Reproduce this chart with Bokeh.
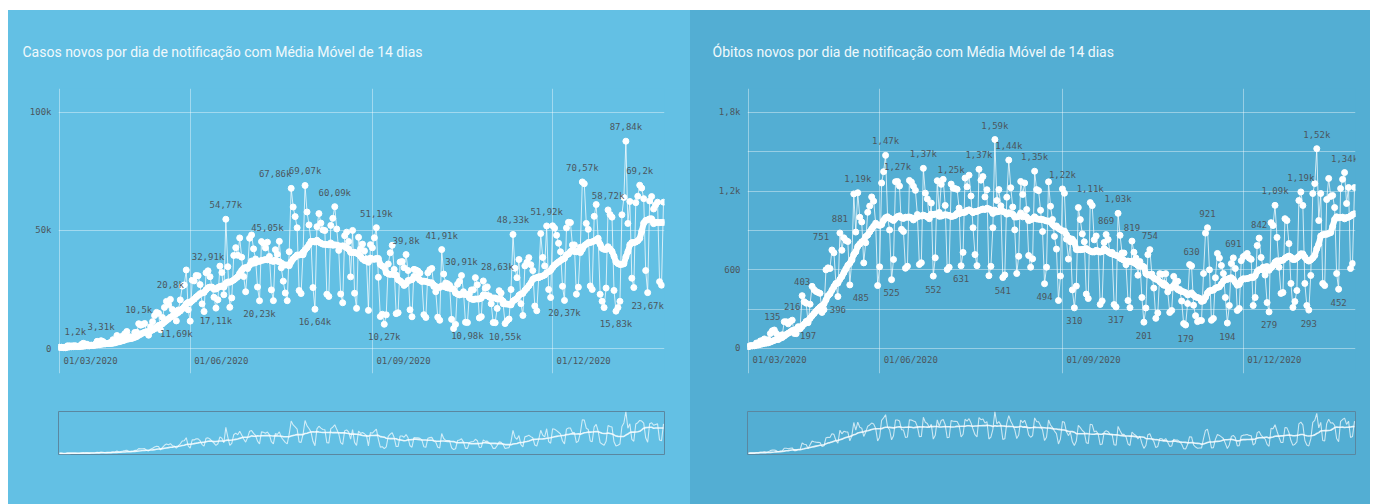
import pandas as pd
from bokeh.plotting import figure
from bokeh.models import ColumnDataSource, Range1d, FixedTicker, Grid
from bokeh.layouts import row, column
from bokeh.embed import file_html
from bokeh.resources import INLINE
from bokeh.core.properties import value

# ---------------- data (daily values, 27/03/2020 .. 26/01/2021) ----------------
cases_mar = [502, 487, 352, 323, 1138]
cases_apr = [1119, 1074, 1146, 1201, 852, 926, 1661, 2210, 1930, 1781, 1089, 1442, 1261, 1832, 3058,
             2105, 3310, 2917, 1996, 2089, 2336, 2678, 3735, 3503, 5514, 3379, 4613, 5385, 6276, 7218]
cases_may = [5015, 4898, 4726, 6794, 6835, 10503, 9888, 10222, 10611, 6760, 5632, 9258, 11385, 13944, 15305,
             14919, 7938, 13140, 17408, 19951, 18508, 20803, 16508, 15813, 11687, 16324, 20599, 26417, 26928,
             33274, 16409]
cases_jun = [11598, 28936, 28633, 30925, 30830, 27075, 18912, 15654, 32091, 32913, 30412, 25982, 21704, 17110,
             20647, 34918, 32188, 22765, 54771, 34666, 17459, 21432, 39436, 42725, 39483, 46860, 38693, 30476,
             24052, 33846]
cases_jul = [46712, 48105, 42223, 37923, 26051, 20229, 45305, 44571, 42619, 45048, 39023, 24831, 20286, 41857,
             39924, 45403, 34177, 28532, 23529, 20257, 41008, 67860, 59961, 55891, 51147, 24578, 23284, 40816,
             69074, 57837, 52383]
cases_aug = [45392, 25800, 16641, 51603, 57152, 53139, 50230, 49970, 23010, 22048, 52160, 55155, 60091, 50644,
             41576, 23101, 19373, 47784, 49298, 45323, 30355, 50032, 23421, 17004, 47134, 42160, 44235, 41350,
             38000, 16158, 44000]
cases_sep = [42659, 46934, 51194, 30168, 13540, 14521, 10273, 14279, 35816, 40557, 43718, 33523, 14768, 15155,
             36653, 36820, 34239, 39797, 33057, 16389, 13439, 33536, 33281, 32817, 31911, 28378, 14318, 13155,
             32058, 33413]
cases_oct = [33922, 26310, 24062, 13273, 11946, 41906, 31553, 27750, 27444, 26749, 12342, 8426, 10220, 27235,
             28523, 30914, 24062, 11099, 10982, 23227, 24818, 24858, 30026, 26979, 12947, 13493, 28629, 25528,
             26106, 22282, 18947]
cases_nov = [11000, 10917, 17000, 24500, 23500, 19000, 10554, 11800, 12500, 25000, 48330, 34000, 30000, 37700,
             19000, 14000, 35000, 36500, 38500, 35500, 33000, 18000, 16000, 30000, 48700, 38600, 35000, 51922,
             25000, 21600]
cases_dec = [52000, 51000, 48000, 44600, 41000, 26363, 20371, 51088, 53453, 53347, 43863, 43900, 23000, 26000,
             42889, 70574, 69826, 53000, 50500, 26500, 25019, 56000, 61000, 46696, 22967, 20000, 17341, 25614,
             58718, 56773, 55649]
cases_jan = [24605, 15827, 17341, 20006, 56648, 64025, 87843, 53000, 62290, 29792, 25822, 61804, 64500, 69198,
             68000, 63500, 33040, 23671, 62500, 64385, 59119, 60800, 62000, 28323, 26816, 62000]

deaths_mar = [15, 22, 22, 23, 42]
deaths_apr = [40, 58, 60, 73, 54, 67, 114, 135, 141, 115, 68, 99, 105, 204, 204, 188, 206, 216, 115, 113, 166,
              165, 403, 357, 346, 197, 338, 474, 449, 435]
deaths_may = [428, 421, 275, 296, 600, 615, 610, 751, 730, 496, 396, 881, 749, 844, 824, 816, 485, 674, 1179,
              888, 1188, 1001, 965, 653, 807, 1039, 1086, 1156, 1124, 956, 480]
deaths_jun = [623, 1262, 1349, 1473, 1005, 904, 525, 679, 1272, 1274, 1239, 909, 892, 612, 627, 1282, 1269,
              1238, 1206, 1022, 641, 654, 1374, 1185, 1141, 990, 1109, 552, 692, 1280]
deaths_jul = [1038, 1252, 1290, 1091, 602, 620, 1254, 1223, 1220, 1214, 1071, 631, 733, 1300, 1233, 1322, 1163,
              921, 716, 632, 1367, 1284, 1311, 1156, 1211, 555, 627, 921, 1594, 1129, 1212]
deaths_aug = [1088, 541, 561, 1154, 1437, 1226, 1079, 905, 572, 703, 1274, 1175, 1262, 1060, 709, 620, 684, 1352,
              1212, 1204, 1054, 892, 494, 620, 1271, 1085, 984, 855, 758, 366, 553]
deaths_sep = [1217, 1184, 834, 682, 814, 447, 310, 476, 1075, 983, 874, 814, 415, 381, 1113, 1090, 829, 858, 739,
              336, 363, 809, 869, 831, 729, 733, 335, 317, 1031, 863]
deaths_oct = [729, 728, 639, 366, 311, 819, 734, 690, 559, 663, 389, 201, 309, 716, 754, 568, 461, 230, 271, 571,
              566, 497, 571, 432, 275, 290, 550, 510, 513, 450, 362]
deaths_nov = [190, 179, 343, 640, 630, 330, 250, 205, 213, 213, 572, 880, 921, 600, 215, 229, 540, 725, 690, 633,
              572, 389, 194, 328, 648, 691, 610, 290, 305, 670]
deaths_dec = [700, 710, 725, 690, 680, 328, 389, 785, 842, 694, 620, 560, 350, 279, 960, 938, 1092, 847, 620, 420,
              427, 990, 976, 800, 496, 313, 358, 442, 1129, 1194, 1091]
deaths_jan = [496, 328, 293, 557, 1182, 1258, 1524, 976, 1182, 496, 480, 1136, 1297, 1160, 1167, 1075, 572, 452,
              1220, 1290, 1342, 1106, 1228, 610, 648, 1228]

# labelled points (positions in the daily series)
cases_hi_idx = [8, 21, 40, 56, 75, 84, 105, 117, 124, 139, 160, 175, 193, 203, 214, 229, 246, 264, 277, 286, 293]
cases_lo_idx = [59, 79, 101, 129, 164, 206, 225, 255, 281, 297]
deaths_hi_idx = [12, 22, 27, 42, 46, 55, 69, 75, 88, 102, 116, 124, 131, 144, 158, 172, 180, 186, 193, 202, 223,
                 231, 244, 257, 265, 278, 286, 300]
deaths_lo_idx = [30, 45, 51, 72, 93, 107, 128, 149, 164, 185, 199, 220, 241, 262, 282, 297]

x_tick_pos = [0, 66, 158, 249]
x_tick_labels = ["01/03/2020", "01/06/2020", "01/09/2020", "01/12/2020"]

cases_ytick_vals = [0, 50000, 100000]
cases_ytick_labels = ["0", "50k", "100k"]
cases_ygrid_vals = [0, 50000, 100000]
deaths_ytick_vals = [0, 600, 1200, 1800]
deaths_ytick_labels = ["0", "600", "1,2k", "1,8k"]
deaths_ygrid_vals = [0, 300, 600, 900, 1200, 1500, 1800]

title_cases = "Casos novos por dia de notificação com Média Móvel de 14 dias"
title_deaths = "Óbitos novos por dia de notificação com Média Móvel de 14 dias"

cases = (cases_mar + cases_apr + cases_may + cases_jun + cases_jul + cases_aug + cases_sep + cases_oct
         + cases_nov + cases_dec + cases_jan)
deaths = (deaths_mar + deaths_apr + deaths_may + deaths_jun + deaths_jul + deaths_aug + deaths_sep + deaths_oct
          + deaths_nov + deaths_dec + deaths_jan)

# ---------------- styling ----------------
LABEL_FONT = "DejaVu Sans Mono"
TITLE_FONT = "Roboto"
LABEL_COLOR = "#4c575e"
LEFT_BG = "#63c0e4"
RIGHT_BG = "#53aed3"
# horizontal nudges (px) of a few data labels that sit beside their point in the original
cases_label_nudge = {117: -16, 214: 14}
deaths_label_nudge = {42: -11, 51: 11}


def fmt(v):
    if v < 1000:
        return str(v)
    h = (v + 5) // 10
    s = f"{h // 100},{h % 100:02d}".rstrip("0").rstrip(",")
    return s + "k"


def build(daily, hi_idx, lo_idx, nudge, ytv, ytl, ygv, title, bg, width, bl, br, ylo, yhi, title_offset):
    n = len(daily)
    idx = list(range(n))
    ma = pd.Series(daily, dtype=float).rolling(14, min_periods=1).mean().tolist()
    xr = (-0.5, n - 0.5)

    p = figure(width=width, height=392, x_range=Range1d(*xr), y_range=Range1d(ylo, yhi),
               output_backend="svg", toolbar_location=None, x_axis_location=None,
               min_border_left=bl, min_border_right=br, min_border_top=78, min_border_bottom=29)
    p.background_fill_color = bg
    p.border_fill_color = bg
    p.outline_line_color = None

    p.title.text = title
    p.title.text_font = TITLE_FONT
    p.title.text_font_size = "14px"
    p.title.text_font_style = "normal"
    p.title.text_color = "#f1f9fc"
    p.title.offset = title_offset
    p.title.standoff = 57

    ax = p.yaxis[0]
    ax.ticker = FixedTicker(ticks=ytv)
    ax.major_label_overrides = {v: l for v, l in zip(ytv, ytl)}
    ax.axis_line_color = None
    ax.major_tick_line_color = None
    ax.minor_tick_line_color = None
    ax.major_tick_out = 0
    ax.major_tick_in = 0
    ax.major_label_standoff = 7
    ax.major_label_text_font = LABEL_FONT
    ax.major_label_text_font_size = "9px"
    ax.major_label_text_color = LABEL_COLOR

    p.ygrid.ticker = FixedTicker(ticks=ygv)
    p.ygrid.grid_line_color = "white"
    p.ygrid.grid_line_alpha = 0.4
    if len(p.xgrid) == 0:
        p.add_layout(Grid(dimension=0), "center")
    p.xgrid.ticker = FixedTicker(ticks=x_tick_pos)
    p.xgrid.grid_line_color = "white"
    p.xgrid.grid_line_alpha = 0.4

    src = ColumnDataSource(dict(x=idx, y=daily, ma=ma))
    p.line("x", "y", source=src, line_color="white", line_width=1, line_alpha=0.75)
    p.line("x", "ma", source=src, line_color="white", line_width=6)
    p.scatter("x", "ma", source=src, size=6, color="white")
    p.scatter("x", "y", source=src, size=6, color="white")

    for ids, off in ((hi_idx, -14), (lo_idx, 13)):
        s = ColumnDataSource(dict(x=ids, y=[daily[i] for i in ids], t=[fmt(daily[i]) for i in ids],
                                  dx=[nudge.get(i, 0) for i in ids]))
        p.text("x", "y", text="t", source=s, x_offset="dx", text_align="center", text_baseline="middle",
               y_offset=off, text_font=value(LABEL_FONT), text_font_size="9px", text_color=LABEL_COLOR)

    p.text(x=x_tick_pos, y=[0] * len(x_tick_pos), text=x_tick_labels, x_offset=4, y_offset=12,
           text_align="left", text_baseline="middle", text_font=value(LABEL_FONT),
           text_font_size="9px", text_color=LABEL_COLOR)

    # navigator
    nv = figure(width=width, height=102, x_range=Range1d(*xr), y_range=Range1d(-max(daily) * 0.02, max(daily) * 1.0),
                output_backend="svg", toolbar_location=None, x_axis_location=None, y_axis_location=None,
                min_border_left=bl, min_border_right=br, min_border_top=9, min_border_bottom=50)
    nv.background_fill_color = bg
    nv.border_fill_color = bg
    nv.outline_line_color = "#5a87a0"
    nv.outline_line_width = 1
    nv.grid.visible = False
    nv.line("x", "y", source=src, line_color="white", line_width=1.1, line_alpha=0.7)
    nv.line("x", "ma", source=src, line_color="white", line_width=1.6, line_alpha=0.85)
    return column(p, nv, spacing=0, styles={"background-color": bg})


left = build(cases, cases_hi_idx, cases_lo_idx, cases_label_nudge, cases_ytick_vals, cases_ytick_labels,
             cases_ygrid_vals, title_cases, LEFT_BG, 682, 50, 26, -10593, 110169, -36)
right = build(deaths, deaths_hi_idx, deaths_lo_idx, deaths_label_nudge, deaths_ytick_vals, deaths_ytick_labels,
              deaths_ygrid_vals, title_deaths, RIGHT_BG, 680, 57, 15, -190.7, 1983, -35)

layout = row(left, right, spacing=0, margin=(10, 0, 0, 8), styles={"background-color": RIGHT_BG})
open("out.html", "w").write(file_html(layout, INLINE))
